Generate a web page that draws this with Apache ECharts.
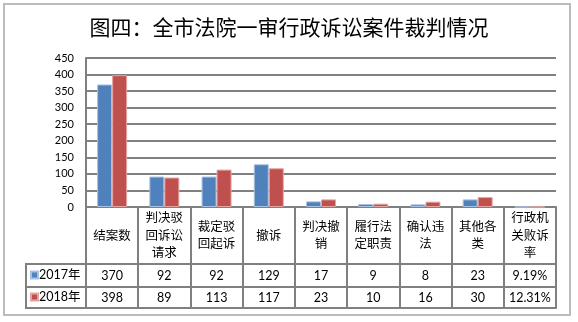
<!DOCTYPE html>
<html>
<head>
<meta charset="utf-8">
<script src="https://cdn.jsdelivr.net/npm/echarts@6/dist/echarts.min.js"></script>
<style>
html,body{margin:0;padding:0;background:#fff;}
#c{width:578px;height:322px;}
</style>
</head>
<body>
<div id="c"></div>
<script>
var titleText = '图四：全市法院一审行政诉讼案件裁判情况';
var categories = ['结案数','判决驳回诉讼请求','裁定驳回起诉','撤诉','判决撤销','履行法定职责','确认违法','其他各类','行政机关败诉率'];
var seriesNames = ['2017年','2018年'];
var values2017 = [370, 92, 92, 129, 17, 9, 8, 23, 0.0919];
var values2018 = [398, 89, 113, 117, 23, 10, 16, 30, 0.1231];
var yTicks = [0, 50, 100, 150, 200, 250, 300, 350, 400, 450];

var FONT = "Lato, 'Noto Sans CJK SC', sans-serif";
var GRID_L = 86, GRID_R = 556, GRID_T = 58, AXIS_Y = 207;
var ROW1 = 57, ROW2 = 80, ROW3 = 101;   // offsets of table row lines below the axis
var LEG_L = 26;
var LINE = '#808080';

function fmt(v){ return v < 1 ? (v*100).toFixed(2) + '%' : String(v); }
function wrap(s){ var out=[]; for (var i=0;i<s.length;i+=3) out.push(s.slice(i,i+3)); return out.join('\n'); }

var chart = echarts.init(document.getElementById('c'), null, {renderer:'canvas'});

var tableLabel = {interval:0, color:'#000', fontFamily:FONT, fontSize:12.5, verticalAlign:'middle'};

chart.setOption({
  animation:false,
  backgroundColor:'#fff',
  title:{text:titleText, left:'center', top:12,
    textStyle:{fontFamily:"'Noto Sans CJK SC', sans-serif", fontSize:21, fontWeight:'normal', color:'#000'}},
  legend:{
    orient:'vertical', left:30, top:AXIS_Y+ROW1, padding:0, itemGap:0,
    itemWidth:7, itemHeight:7, icon:'rect',
    data:seriesNames,
    textStyle:{fontFamily:FONT, fontSize:12.5, color:'#000', lineHeight:22, padding:[0,0,0,-4]}
  },
  grid:{left:GRID_L, right:578-GRID_R, top:GRID_T, bottom:322-AXIS_Y, containLabel:false},
  yAxis:{type:'value', min:yTicks[0], max:yTicks[yTicks.length-1], interval:yTicks[1]-yTicks[0],
    axisLine:{show:true, lineStyle:{color:LINE, width:2}},
    axisTick:{show:false},
    splitLine:{show:true, lineStyle:{color:LINE, width:2}},
    axisLabel:{color:'#000', fontFamily:FONT, fontSize:11, margin:12}},
  xAxis:[
    {type:'category', data:categories, position:'bottom',
      axisLine:{show:true, lineStyle:{color:LINE, width:2}},
      axisTick:{show:true, interval:0, length:ROW3, lineStyle:{color:LINE, width:2}},
      axisLabel:Object.assign({}, tableLabel, {margin:28.5, lineHeight:17.5, formatter:function(v){return wrap(v);}})},
    {type:'category', data:values2017.map(fmt), position:'bottom', offset:ROW1,
      axisLine:{show:true, lineStyle:{color:LINE, width:2}}, axisTick:{show:false},
      axisLabel:Object.assign({}, tableLabel, {margin:11.5})},
    {type:'category', data:values2018.map(fmt), position:'bottom', offset:ROW2,
      axisLine:{show:true, lineStyle:{color:LINE, width:2}}, axisTick:{show:false},
      axisLabel:Object.assign({}, tableLabel, {margin:10.5})},
    {type:'category', data:categories.map(function(){return '';}), position:'bottom', offset:ROW3,
      axisLine:{show:true, lineStyle:{color:LINE, width:2}}, axisTick:{show:false},
      axisLabel:{show:false}}
  ],
  series:[
    {name:seriesNames[0], type:'bar', xAxisIndex:0, data:values2017, barWidth:15, barGap:'0%',
      itemStyle:{color:'#4F81BD', borderColor:'#a9c1e3', borderWidth:1}},
    {name:seriesNames[1], type:'bar', xAxisIndex:0, data:values2018, barWidth:15, barGap:'0%',
      itemStyle:{color:'#C0504D', borderColor:'#e3a5a4', borderWidth:1}}
  ],
  graphic:[
    {type:'rect', shape:{x:4, y:4, width:566, height:311}, style:{fill:null, stroke:'#bcbcbc', lineWidth:2}, silent:true},
    {type:'line', shape:{x1:LEG_L, y1:AXIS_Y+ROW1, x2:LEG_L, y2:AXIS_Y+ROW3+1}, style:{stroke:LINE, lineWidth:2}},
    {type:'line', shape:{x1:LEG_L-1, y1:AXIS_Y+ROW1, x2:GRID_L, y2:AXIS_Y+ROW1}, style:{stroke:LINE, lineWidth:2}},
    {type:'line', shape:{x1:LEG_L, y1:AXIS_Y+ROW2, x2:GRID_L, y2:AXIS_Y+ROW2}, style:{stroke:LINE, lineWidth:2}},
    {type:'line', shape:{x1:LEG_L-1, y1:AXIS_Y+ROW3, x2:GRID_L, y2:AXIS_Y+ROW3}, style:{stroke:LINE, lineWidth:2}}
  ]
});
</script>
</body>
</html>
